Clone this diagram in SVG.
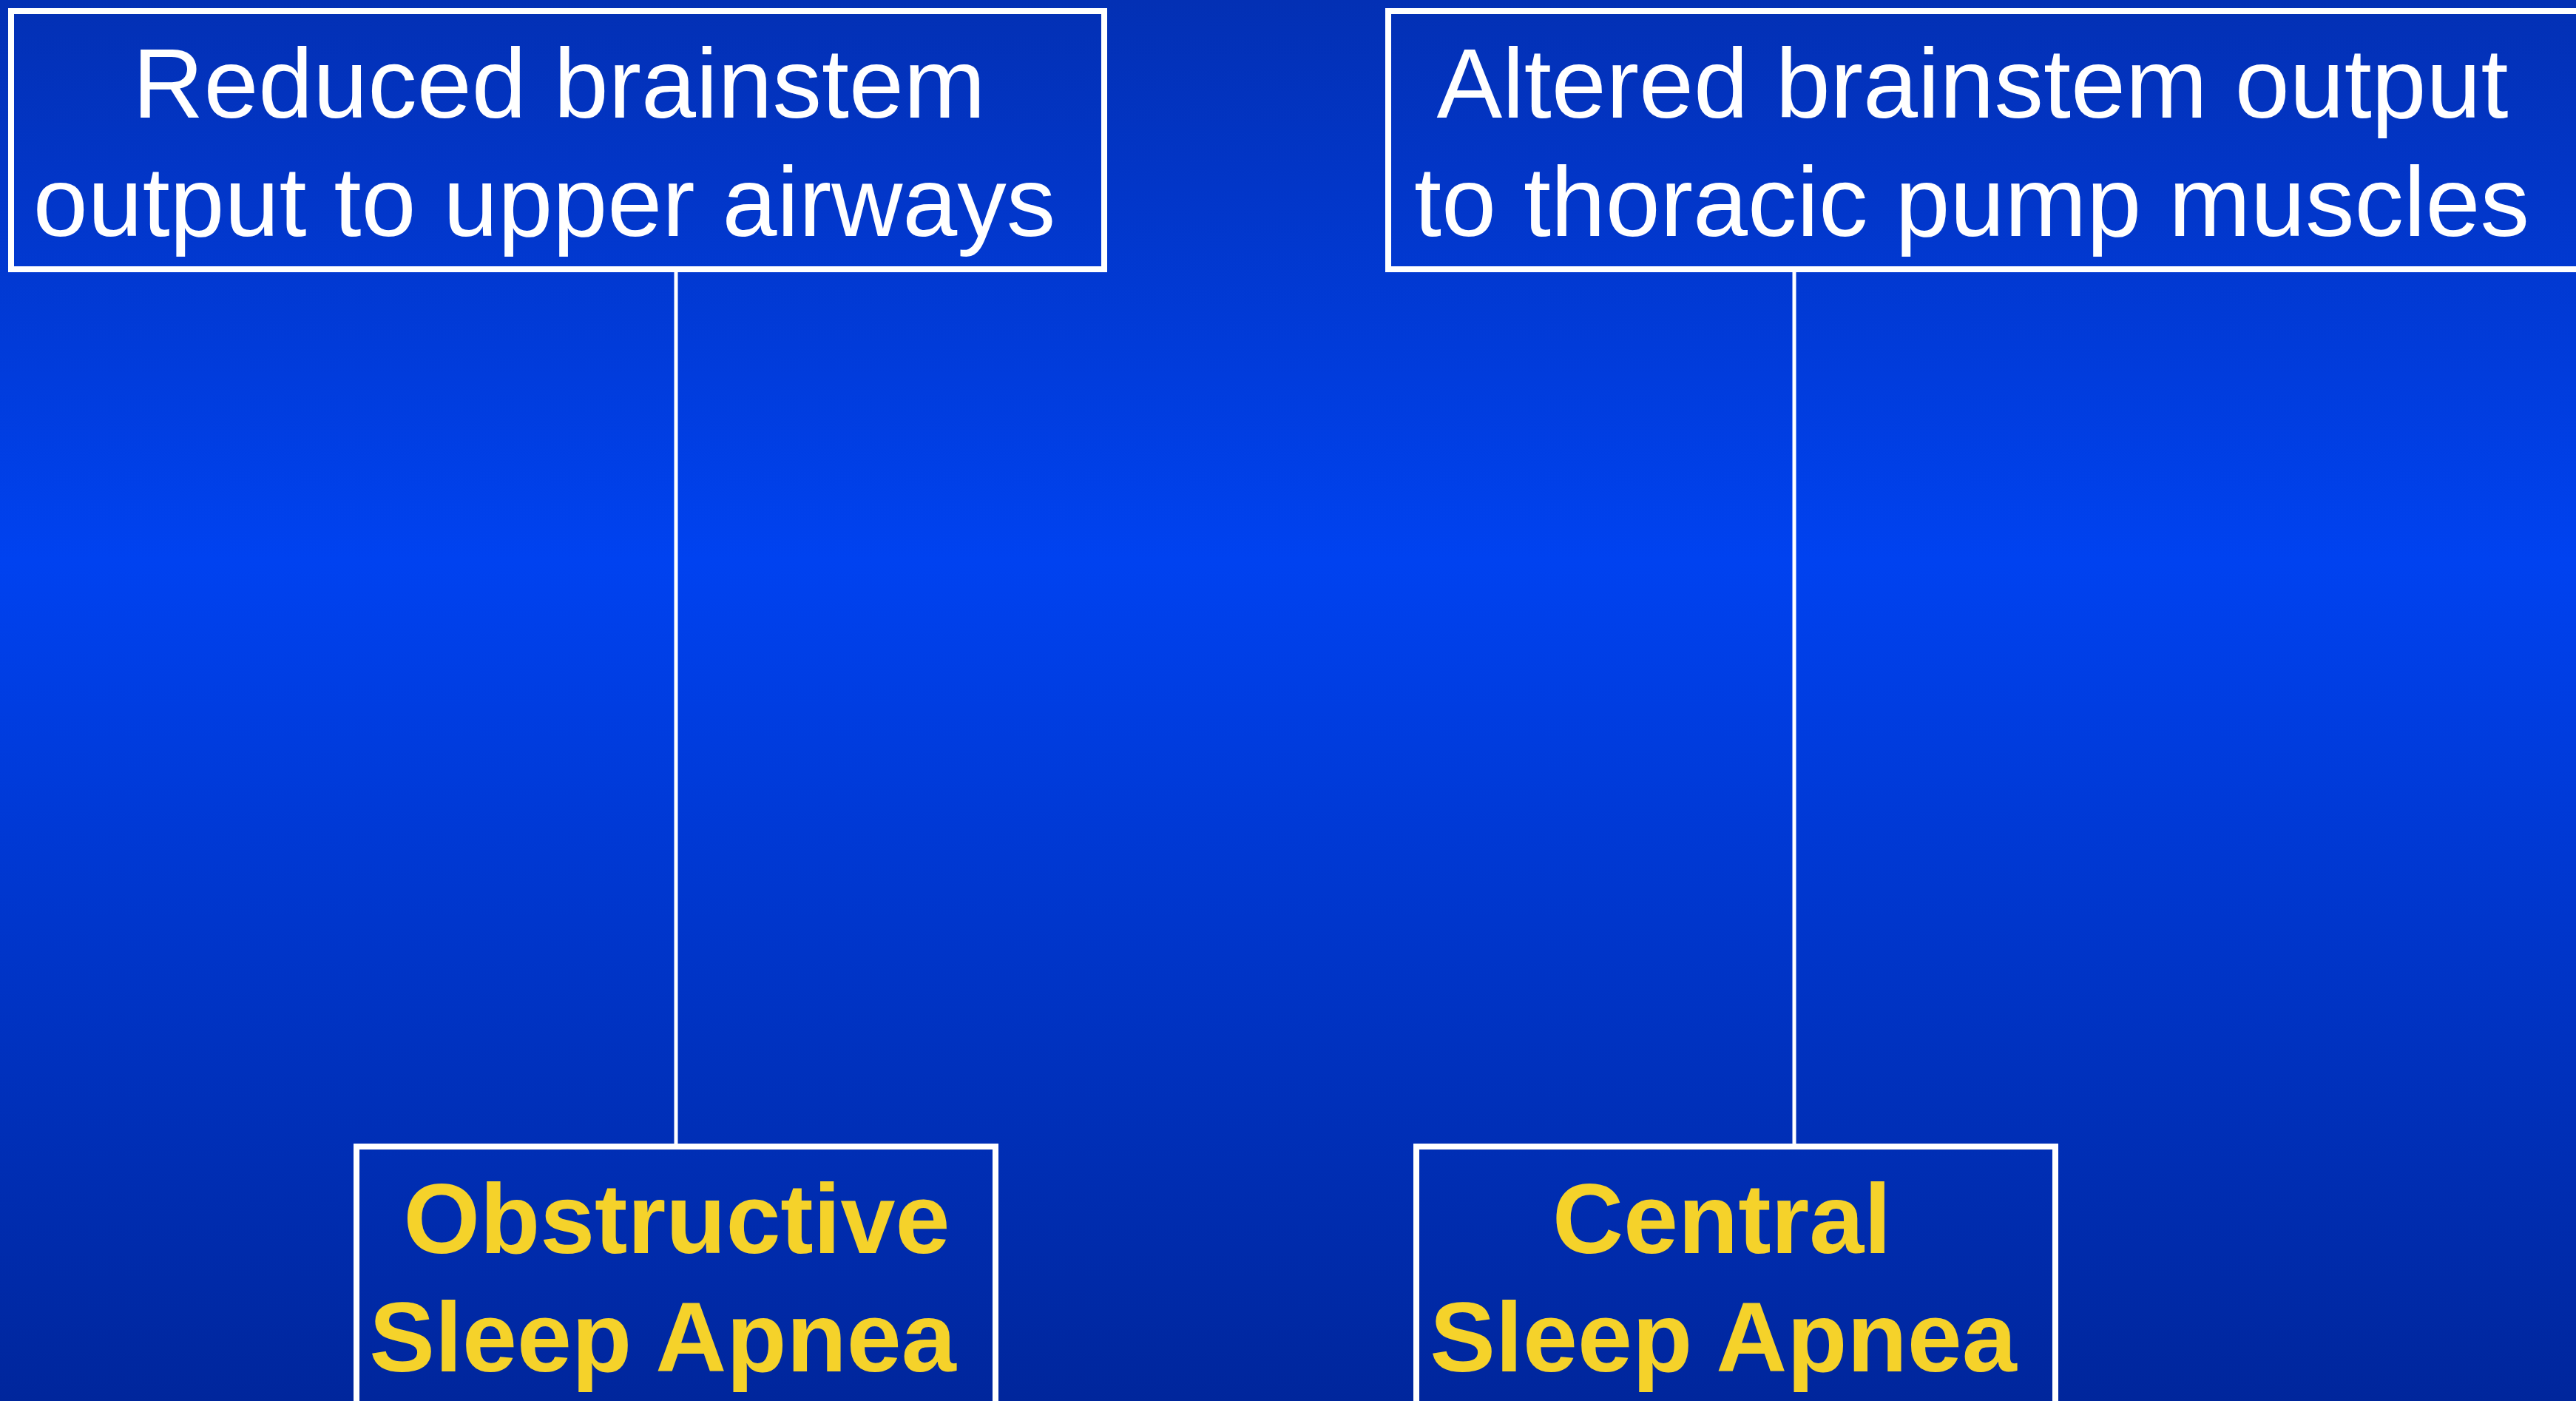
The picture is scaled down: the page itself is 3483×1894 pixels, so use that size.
<svg xmlns="http://www.w3.org/2000/svg" width="3483" height="1894" viewBox="0 0 3483 1894">
  <defs>
    <linearGradient id="bg" x1="0" y1="0" x2="0" y2="1">
      <stop offset="0" stop-color="#0330B4"/>
      <stop offset="0.4" stop-color="#0042F0"/>
      <stop offset="1" stop-color="#00269C"/>
    </linearGradient>
    <style>
      .box { fill: none; stroke: #FFFFFF; stroke-width: 8; }
      .conn { stroke: #FFFFFF; stroke-width: 5; fill: none; }
      .top { font-family: "Liberation Sans", Arial, sans-serif; font-size: 133px; fill: #FFFFFF; text-anchor: middle; }
      .bot { font-family: "Liberation Sans", Arial, sans-serif; font-size: 133px; font-weight: bold; fill: #F5D22A; text-anchor: middle; }
    </style>
  </defs>
  <rect x="0" y="0" width="3483" height="1894" fill="url(#bg)"/>

  <g id="connectors">
    <line class="conn" x1="914" y1="368" x2="914" y2="1546"/>
    <line class="conn" x1="2426" y1="368" x2="2426" y2="1546"/>
  </g>

  <g id="node-reduced">
    <rect class="box" x="15" y="15" width="1478" height="349"/>
    <text class="top" x="756" y="159">Reduced brainstem</text>
    <text class="top" x="736" y="319">output to upper airways</text>
  </g>

  <g id="node-altered">
    <rect class="box" x="1877" y="15" width="1640" height="349"/>
    <text class="top" x="2667" y="159">Altered brainstem output</text>
    <text class="top" x="2666" y="319">to thoracic pump muscles</text>
  </g>

  <g id="node-osa">
    <rect class="box" x="482" y="1550" width="864" height="360"/>
    <text class="bot" x="915" y="1694">Obstructive</text>
    <text class="bot" x="896" y="1854">Sleep Apnea</text>
  </g>

  <g id="node-csa">
    <rect class="box" x="1915" y="1550" width="864" height="360"/>
    <text class="bot" x="2328" y="1694">Central</text>
    <text class="bot" x="2330" y="1854">Sleep Apnea</text>
  </g>
</svg>
